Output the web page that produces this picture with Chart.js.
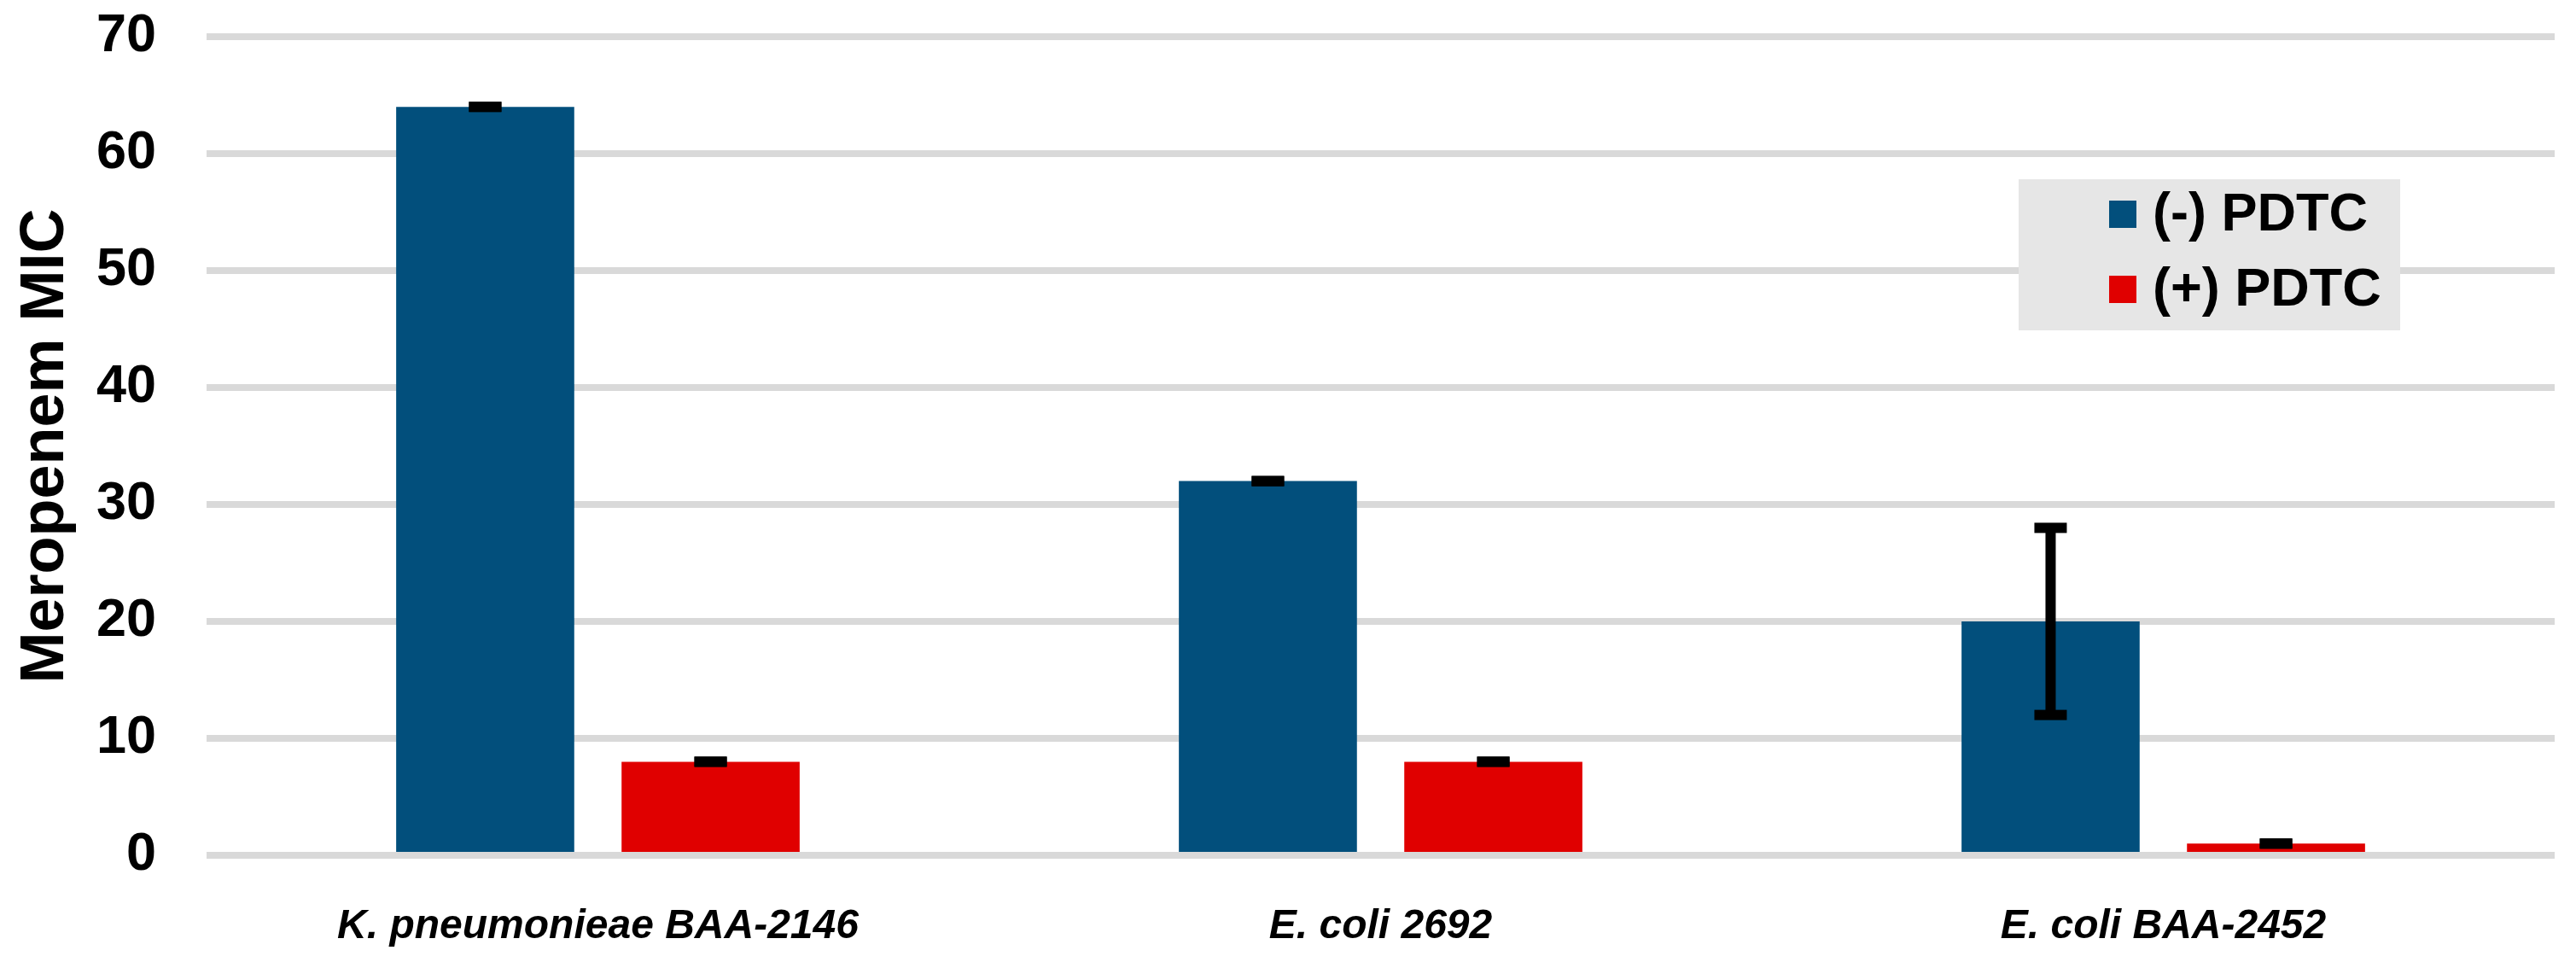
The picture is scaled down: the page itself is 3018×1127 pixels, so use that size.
<!DOCTYPE html>
<html>
<head>
<meta charset="utf-8">
<script src="https://cdn.jsdelivr.net/npm/chart.js@4.4.1/dist/chart.umd.min.js"></script>
<style>
  html, body { margin: 0; padding: 0; background: #fff; }
  #wrap { width: 3018px; height: 1127px; position: relative; }
</style>
</head>
<body>
<div id="wrap"><canvas id="myChart"></canvas></div>
<script>
// chart data
const strains = ['K. pneumonieae BAA-2146', 'E. coli 2692', 'E. coli BAA-2452'];
const seriesNames = ['(-) PDTC', '(+) PDTC'];
const withoutPdtc = [64, 32, 20];
const withPdtc = [8, 8, 1];
const withoutPdtcErr = [0, 0, 8];
const withPdtcErr = [0, 0, 0];
const yTicks = [0, 10, 20, 30, 40, 50, 60, 70];

const FONT = "'Liberation Sans', Arial, sans-serif";

// draws the error bars with the y scale
const errorBars = {
    id: 'errorBars',
    afterDatasetsDraw(chart) {
        const ctx = chart.ctx;
        const y = chart.scales.y;
        ctx.save();
        ctx.fillStyle = '#000';
        chart.data.datasets.forEach((ds, di) => {
            const meta = chart.getDatasetMeta(di);
            meta.data.forEach((bar, i) => {
                const v = ds.data[i];
                const e = ds.errors[i];
                const top = y.getPixelForValue(v + e);
                const bot = y.getPixelForValue(v - e);
                const cx = bar.x;
                if (e > 0) {
                    ctx.fillRect(cx - 6, top, 12, bot - top);
                }
                ctx.fillRect(cx - 19, top - 6, 38, 12);
                ctx.fillRect(cx - 19, bot - 6, 38, 12);
            });
        });
        ctx.restore();
    }
};

// grey legend box inside the plot
const boxLegend = {
    id: 'boxLegend',
    afterDraw(chart, args, opts) {
        const ctx = chart.ctx;
        ctx.save();
        ctx.fillStyle = '#e6e6e6';
        ctx.fillRect(opts.x, opts.y, opts.w, opts.h);
        ctx.font = 'bold 63px ' + FONT;
        ctx.textBaseline = 'middle';
        chart.data.datasets.forEach((ds, i) => {
            const my = opts.y + 25 + i * 88;
            ctx.fillStyle = ds.backgroundColor;
            ctx.fillRect(opts.x + 106, my, 32, 32);
            ctx.fillStyle = '#000';
            ctx.fillText(ds.label, opts.x + 157, my + 18);
        });
        ctx.restore();
    }
};

document.addEventListener('DOMContentLoaded', function () {
    const ctx = document.getElementById('myChart').getContext('2d');
    new Chart(ctx, {
        type: 'bar',
        data: {
            labels: strains,
            datasets: [
                { label: seriesNames[0], data: withoutPdtc, errors: withoutPdtcErr, backgroundColor: '#024f7c' },
                { label: seriesNames[1], data: withPdtc, errors: withPdtcErr, backgroundColor: '#e00000' }
            ]
        },
        options: {
            responsive: true,
            maintainAspectRatio: false,
            animation: false,
            devicePixelRatio: 1,
            categoryPercentage: 0.576,
            barPercentage: 0.79,
            layout: { padding: { top: 43, right: 25, bottom: 0, left: 0 } },
            plugins: {
                legend: { display: false },
                tooltip: { enabled: false },
                boxLegend: { x: 2365, y: 210, w: 447, h: 177 }
            },
            scales: {
                x: {
                    grid: { display: false },
                    border: { display: false },
                    ticks: {
                        color: '#000',
                        padding: 47,
                        maxRotation: 0,
                        font: { family: FONT, size: 48, weight: 'bold', style: 'italic' }
                    },
                    afterFit(scale) { scale.height = 125; scale.paddingTop = 0; }
                },
                y: {
                    min: 0,
                    max: 70,
                    afterBuildTicks(scale) { scale.ticks = yTicks.map(v => ({ value: v })); },
                    grid: { color: '#d9d9d9', lineWidth: 8, drawTicks: false },
                    border: { display: false },
                    ticks: {
                        color: '#000',
                        padding: 59,
                        font: { family: FONT, size: 63, weight: 'bold' }
                    },
                    title: {
                        display: true,
                        text: 'Meropenem MIC',
                        color: '#000',
                        padding: { top: 11, bottom: 0 },
                        font: { family: FONT, size: 72, weight: 'bold' }
                    },
                    afterFit(scale) {
                        scale.width = 242;
                        scale.paddingTop = 0;
                        scale.paddingBottom = 0;
                    }
                }
            }
        },
        plugins: [errorBars, boxLegend]
    });
});
</script>
</body>
</html>
